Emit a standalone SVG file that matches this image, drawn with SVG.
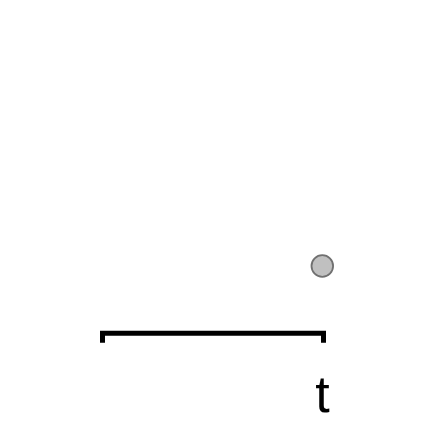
<svg xmlns="http://www.w3.org/2000/svg" width="424" height="424" viewBox="0 0 424 424">
<style>
.bar{fill:none;stroke:#000;stroke-width:5;stroke-linecap:butt;stroke-linejoin:miter}
.dot{fill:#c0c0c0;stroke:#707070;stroke-width:1.8}
.lbl{font-family:"Liberation Sans",Arial,sans-serif;font-size:52px;fill:#000;text-anchor:middle}
</style>
<rect width="424" height="424" fill="#fff"/>
<g id="dot"><circle class="dot" cx="322.3" cy="266" r="10.8"/></g>
<g id="bar"><path class="bar" d="M102.5,342.7 V333.2 H323.5 V342.7"/></g>
<g id="label"><text class="lbl" x="322.5" y="411.5">t</text></g>
</svg>
